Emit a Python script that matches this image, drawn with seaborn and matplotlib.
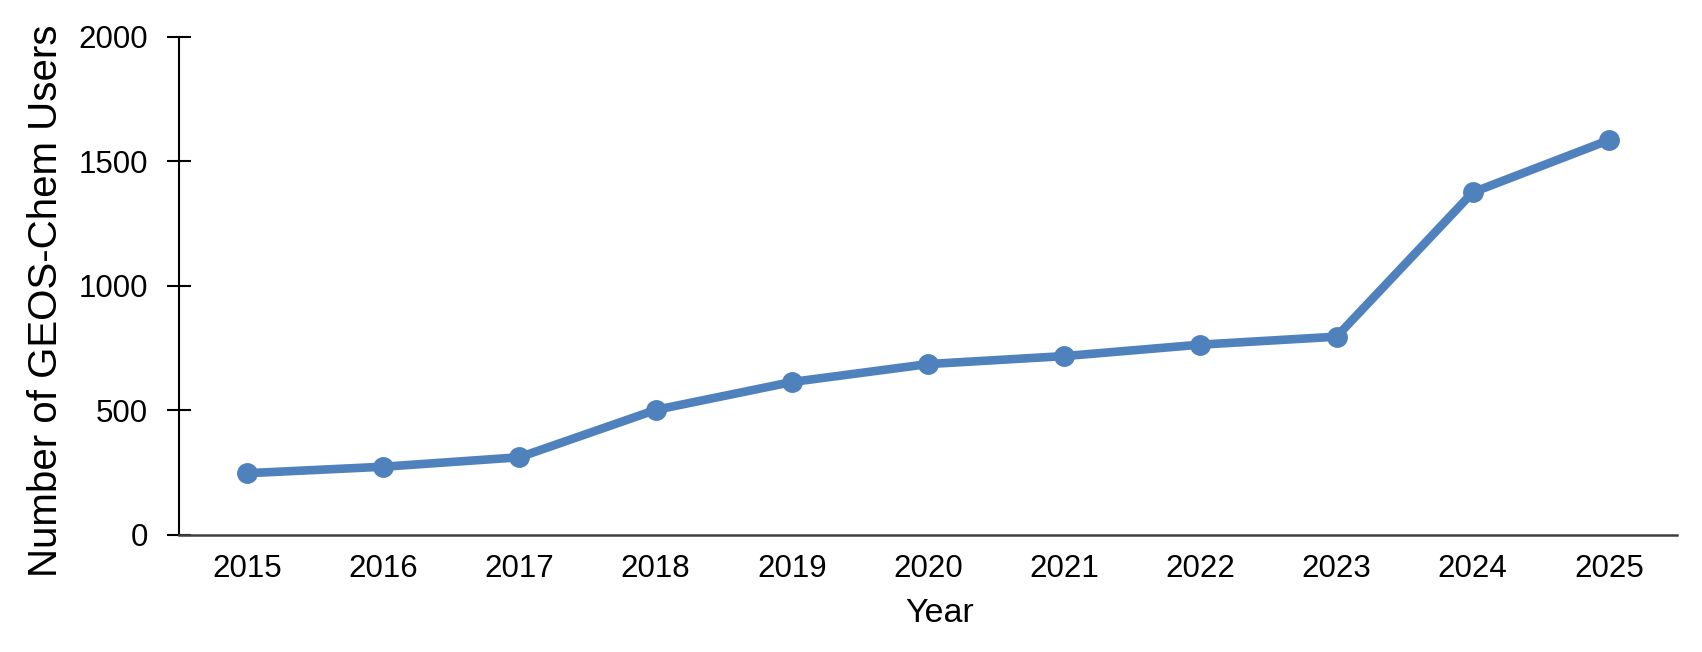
"""GEOS-Chem user growth line chart."""

import matplotlib

matplotlib.use("Agg")

import matplotlib.pyplot as plt
import pandas as pd
import seaborn as sns

YEARS = ["2015", "2016", "2017", "2018", "2019", "2020",
         "2021", "2022", "2023", "2024", "2025"]
USERS = [248, 274, 312, 502, 614, 686, 718, 764, 796, 1375, 1585]
Y_TICKS = [0, 500, 1000, 1500, 2000]

LINE_COLOR = "#4F81BD"


def main() -> None:
    sns.set_style("white")
    plt.rcParams["font.family"] = ["Liberation Sans", "DejaVu Sans"]
    plt.rcParams["text.color"] = "black"
    plt.rcParams["axes.labelcolor"] = "black"
    plt.rcParams["xtick.color"] = "black"
    plt.rcParams["ytick.color"] = "black"

    df = pd.DataFrame({"year": YEARS, "users": USERS})

    fig = plt.figure(figsize=(17.02, 6.52), dpi=100)
    ax = fig.add_axes([179 / 1702, 1 - 535 / 652, 1498 / 1702, 498.3 / 652])

    sns.pointplot(
        data=df, x="year", y="users", ax=ax,
        color=LINE_COLOR, errorbar=None, markers="o",
    )
    # force the stroke widths; seaborn scales its own defaults
    for line in ax.lines:
        line.set_linewidth(6.2)
        line.set_markersize(13)

    ax.set_ylim(0, 2000)
    ax.set_xlim(-0.5, len(YEARS) - 0.5)
    ax.set_yticks(Y_TICKS)

    for side in ("top", "right"):
        ax.spines[side].set_visible(False)
    ax.spines["left"].set_color("black")
    ax.spines["left"].set_linewidth(1.5)
    ax.spines["bottom"].set_color("#404040")
    ax.spines["bottom"].set_linewidth(1.8)

    ax.tick_params(axis="y", direction="inout", length=17.3, width=1.5,
                   color="black", labelcolor="black", labelsize=22.5,
                   pad=13.5, left=True)
    ax.tick_params(axis="x", length=0, labelsize=22.5, labelcolor="black",
                   pad=13.5)

    ax.set_ylabel("Number of GEOS-Chem Users", fontsize=29, va="center",
                  color="black")
    ax.yaxis.set_label_coords(-0.0885, 0.471)
    ax.set_xlabel("Year", fontsize=24.5, va="center", color="black")
    ax.xaxis.set_label_coords(0.508, -0.158)

    fig.savefig("out.png", dpi=100)
    plt.close(fig)


if __name__ == "__main__":
    main()
